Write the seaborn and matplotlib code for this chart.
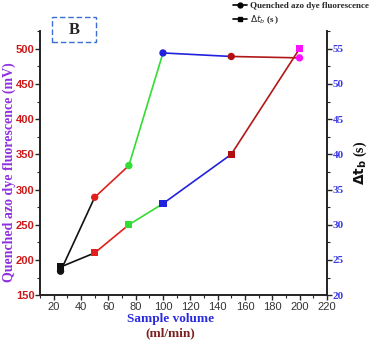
import matplotlib
matplotlib.use("Agg")
import matplotlib.pyplot as plt
from matplotlib.lines import Line2D
from matplotlib.patches import Rectangle
from matplotlib.ticker import MultipleLocator
from matplotlib import font_manager
import seaborn as sns

# Data
sample_volume = [25, 50, 75, 100, 150, 200]
fluorescence_mv = [184, 289, 334, 494, 489, 487]
delta_tb_s = [24, 26, 30, 33, 40, 55]

segment_colors = ["#111111", "#e0201c", "#33dd33", "#2222dd", "#b01818"]
marker_colors = ["#111111", "#e0201c", "#33dd33", "#2222dd", "#b01010", "#ff10ff"]

sns.set_style("ticks")
plt.rcParams["font.family"] = ["DejaVu Sans"]

installed = {f.name for f in font_manager.fontManager.ttflist}
narrow = "Liberation Sans Narrow" if "Liberation Sans Narrow" in installed else "Liberation Sans"
serif = "Liberation Serif"

fig = plt.figure(figsize=(3.71, 3.42), dpi=100)
ax = fig.add_axes([0.108, 0.137, 0.773, 0.772])
ax2 = ax.twinx()

def draw_series(axis, y, marker, size):
    for i in range(len(sample_volume) - 1):
        sns.lineplot(x=sample_volume[i:i + 2], y=y[i:i + 2], ax=axis,
                     color=segment_colors[i], lw=1.2, legend=False)
    sns.scatterplot(x=sample_volume, y=y, hue=list(range(len(y))),
                    palette=marker_colors, marker=marker, s=size,
                    edgecolor="none", ax=axis, legend=False, zorder=5)

draw_series(ax, fluorescence_mv, "o", 28)
draw_series(ax2, delta_tb_s, "s", 26)

ax.set_xlim(10, 220)
ax.set_ylim(150, 525)
ax2.set_ylim(20, 57.5)

ax.xaxis.set_major_locator(MultipleLocator(20))
ax.xaxis.set_minor_locator(MultipleLocator(10))
ax.yaxis.set_major_locator(MultipleLocator(50))
ax.yaxis.set_minor_locator(MultipleLocator(25))
ax2.yaxis.set_major_locator(MultipleLocator(5))
ax2.yaxis.set_minor_locator(MultipleLocator(2.5))

for a in (ax, ax2):
    a.spines["top"].set_visible(False)
    for s in a.spines.values():
        s.set_linewidth(1.2)
        s.set_color("#222222")
    a.tick_params(which="major", length=3.5, width=1)
    a.tick_params(which="minor", length=2, width=0.8)
    a.set_xlabel("")
    a.set_ylabel("")

ax.tick_params(axis="x", labelsize=8, labelcolor="#333333", pad=1.5)
for t in ax.get_xticklabels():
    t.set_fontfamily("Liberation Sans")
ax.tick_params(axis="y", labelsize=8, labelcolor="#cc1a1a", pad=0.5)
for t in ax.get_yticklabels():
    t.set_fontfamily(narrow)
    t.set_fontweight("bold")
ax2.tick_params(axis="y", labelsize=8, labelcolor="#3a3ae8", pad=0.5)
for t in ax2.get_yticklabels():
    t.set_fontfamily(serif)
    t.set_fontweight("bold")

ax.set_ylabel("Quenched azo dye fluorescence (mV)", color="#9030e0",
              fontsize=10, fontweight="bold", family=serif)
ax.yaxis.set_label_coords(-0.083, 0.466)
ax2.set_ylabel(r"$\mathbf{\Delta t_b}$ (s)", color="#111111",
               fontsize=10, fontweight="bold", family=serif, labelpad=6)
fig.text(0.46, 0.068, "Sample volume", color="#2a2ae0", fontsize=9.5,
         fontweight="bold", family=serif, ha="center", va="center")
fig.text(0.46, 0.026, "(ml/min)", color="#7a1e1e", fontsize=9.5,
         fontweight="bold", family=serif, ha="center", va="center")

# Panel tag
fig.patches.append(Rectangle((52 / 371, 1 - 42 / 342), 44 / 371, 25 / 342,
                             transform=fig.transFigure, fill=False,
                             edgecolor="#3a6ed0", lw=1, ls=(0, (4, 2))))
fig.text(74 / 371, 1 - 30 / 342, "B", fontsize=12, fontweight="bold",
         family=serif, ha="center", va="center")

handles = [
    Line2D([], [], color="black", marker="o", markersize=3.5, lw=1.2),
    Line2D([], [], color="black", marker="s", markersize=3.5, lw=1.2),
]
fig.legend(handles, ["Quenched azo dye fluorescence", r"$\Delta t_b$ (s )"],
           loc="upper left", bbox_to_anchor=(229 / 371, 1.005),
           frameon=False, handlelength=1.6, handletextpad=0.3,
           labelspacing=0.4, borderaxespad=0,
           prop={"family": serif, "weight": "bold", "size": 6.5})

fig.savefig("out.png", dpi=100)
